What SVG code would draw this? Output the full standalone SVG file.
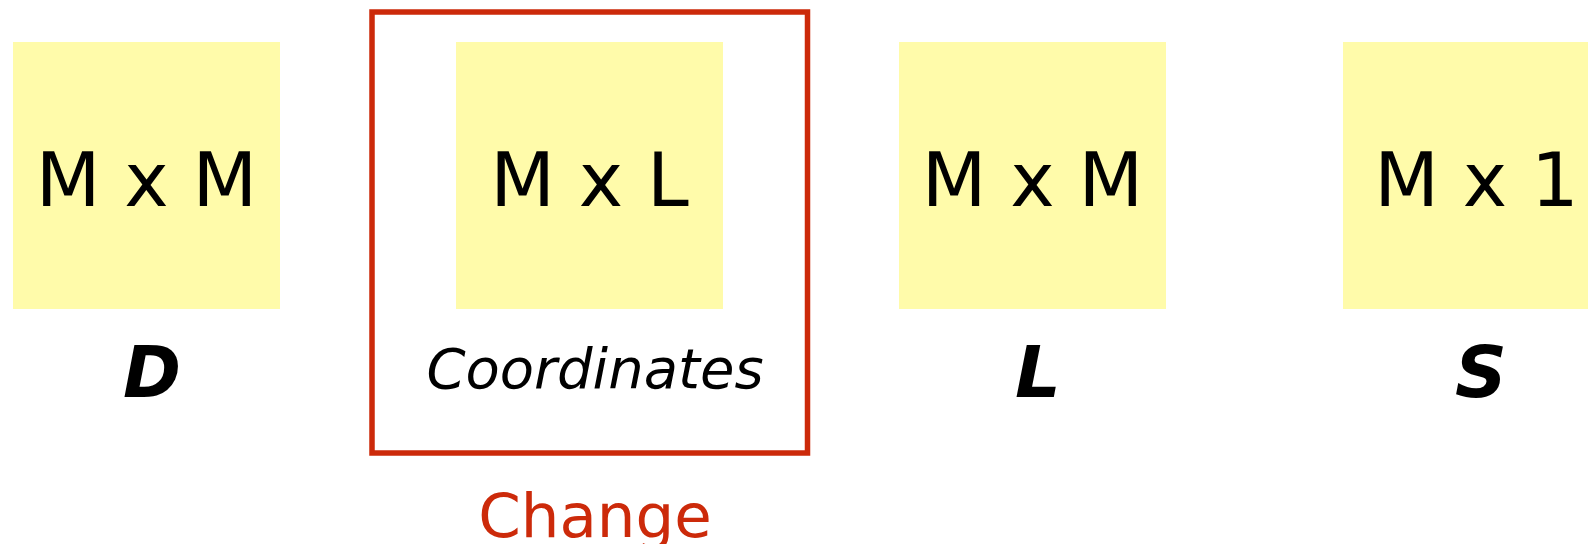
<svg xmlns="http://www.w3.org/2000/svg" width="1588" height="544" viewBox="0 0 1588 544">
  <style>
    .cell { fill: #FFFBAA; }
    .dim { font-family: "DejaVu Sans", Verdana, sans-serif; font-size: 75px; fill: #000; text-anchor: middle; }
    .name { font-family: "DejaVu Sans", Verdana, sans-serif; font-size: 72px; font-weight: bold; font-style: italic; fill: #000; text-anchor: middle; }
    .coord { font-family: "DejaVu Sans", Verdana, sans-serif; font-size: 56px; font-style: italic; fill: #000; text-anchor: middle; }
    .frame { fill: none; stroke: #CC2A0A; stroke-width: 5.5; }
    .note { font-family: "DejaVu Sans", Verdana, sans-serif; font-size: 61px; fill: #CC2A0A; text-anchor: middle; }
  </style>
  <rect width="1588" height="544" fill="#fff"/>

  <g id="matrix-D">
    <rect class="cell" x="13" y="42" width="267" height="267"/>
    <text class="dim" x="146.5" y="206">M x M</text>
    <text class="name" x="152" y="397" textLength="58" lengthAdjust="spacingAndGlyphs">D</text>
  </g>

  <g id="matrix-coordinates">
    <rect class="cell" x="456" y="42" width="267" height="267"/>
    <text class="dim" x="589.5" y="206">M x L</text>
    <text class="coord" x="595" y="388">Coordinates</text>
  </g>

  <g id="change-highlight">
    <rect class="frame" x="372" y="12" width="435.5" height="441"/>
    <text class="note" x="595" y="537">Change</text>
  </g>

  <g id="matrix-L">
    <rect class="cell" x="899" y="42" width="267" height="267"/>
    <text class="dim" x="1032.5" y="206">M x M</text>
    <text class="name" x="1038" y="397">L</text>
  </g>

  <g id="matrix-S">
    <rect class="cell" x="1343" y="42" width="267" height="267"/>
    <text class="dim" x="1476.5" y="206">M x 1</text>
    <text class="name" x="1481" y="397">S</text>
  </g>

  <g id="connectors"/>
</svg>
